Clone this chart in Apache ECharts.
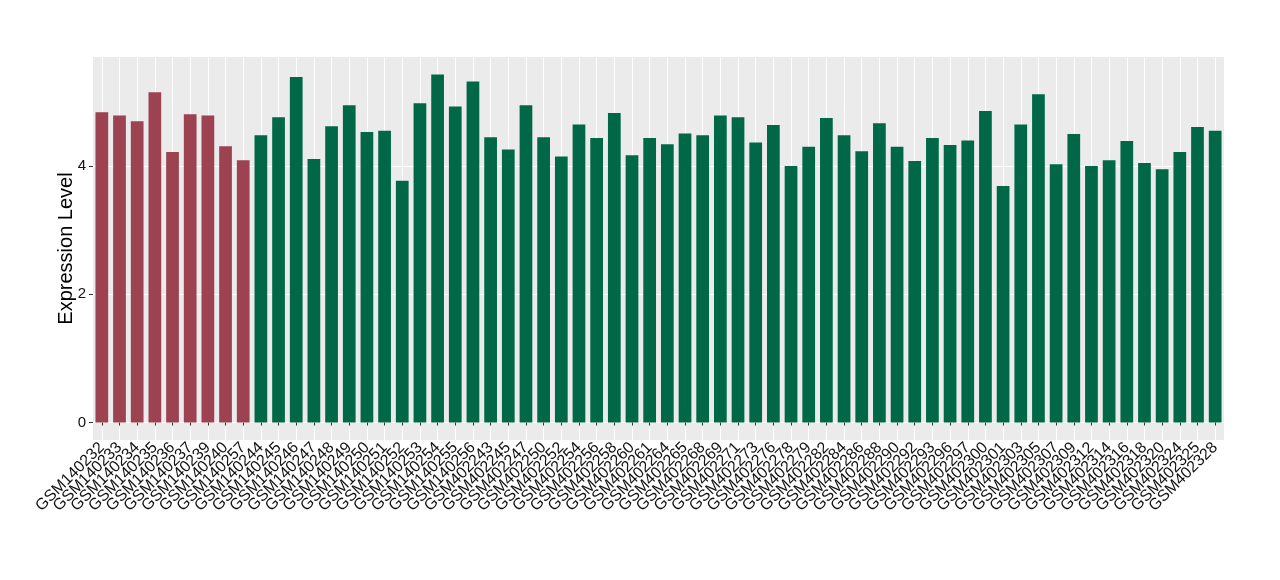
<!DOCTYPE html>
<html>
<head>
<meta charset="utf-8">
<script src="https://cdn.jsdelivr.net/npm/echarts@6/dist/echarts.min.js"></script>
<style>
  html, body { margin: 0; padding: 0; background: #ffffff; }
  #chart { width: 1280px; height: 580px; }
</style>
</head>
<body>
<div id="chart"></div>
<script>
  // group 1 (red)
  const samplesA = ['GSM140232','GSM140233','GSM140234','GSM140235','GSM140236','GSM140237','GSM140239','GSM140240','GSM140257']
  const valuesA = [4.84,4.79,4.70,5.15,4.22,4.81,4.79,4.31,4.09]
  // group 2 (green)
  const samplesB = ['GSM140244','GSM140245','GSM140246','GSM140247','GSM140248','GSM140249','GSM140250','GSM140251','GSM140252','GSM140253',
    'GSM140254','GSM140255','GSM140256','GSM402243','GSM402245','GSM402247','GSM402250','GSM402252','GSM402254','GSM402256',
    'GSM402258','GSM402260','GSM402261','GSM402264','GSM402265','GSM402268','GSM402269','GSM402271','GSM402273','GSM402276',
    'GSM402278','GSM402279','GSM402282','GSM402284','GSM402286','GSM402288','GSM402290','GSM402292','GSM402293','GSM402296',
    'GSM402297','GSM402300','GSM402301','GSM402303','GSM402305','GSM402307','GSM402309','GSM402312','GSM402314','GSM402316',
    'GSM402318','GSM402320','GSM402324','GSM402325','GSM402328']
  const valuesB = [4.48,4.76,5.39,4.11,4.62,4.95,4.53,4.55,3.77,4.98,
    5.43,4.93,5.32,4.45,4.26,4.95,4.45,4.15,4.65,4.44,
    4.83,4.17,4.44,4.34,4.51,4.48,4.79,4.76,4.37,4.64,
    4.00,4.30,4.75,4.48,4.23,4.67,4.30,4.08,4.44,4.33,
    4.40,4.86,3.69,4.65,5.12,4.03,4.50,4.00,4.09,4.39,
    4.05,3.95,4.22,4.61,4.55]
  const yTicks = [0, 2, 4]
  const yGrid = [0, 1, 2, 3, 4, 5]

  const colorA = '#9C4250'
  const colorB = '#006846'

  const categories = samplesA.concat(samplesB)
  const barData = valuesA.map(v => ({ value: v, itemStyle: { color: colorA } }))
    .concat(valuesB.map(v => ({ value: v, itemStyle: { color: colorB } })))

  const allValues = valuesA.concat(valuesB)
  const vmax = Math.max.apply(null, allValues)
  const ymin = -0.05 * vmax
  const ymax = vmax * 1.05

  const chart = echarts.init(document.getElementById('chart'))
  const option = {
    animation: false,
    grid: {
      left: 93,
      right: 56,
      top: 57,
      bottom: 140,
      show: true,
      backgroundColor: '#EBEBEB',
      borderWidth: 0
    },
    xAxis: {
      type: 'category',
      data: categories,
      axisLine: { show: false },
      axisTick: { show: true, alignWithLabel: true, length: 3, lineStyle: { color: '#333333' } },
      axisLabel: {
        interval: 0,
        rotate: 45,
        margin: 5,
        color: '#111111',
        fontSize: 16,
        fontFamily: 'Liberation Sans'
      },
      splitLine: { show: true, alignWithLabel: true, lineStyle: { color: '#ffffff', width: 1 } }
    },
    yAxis: {
      type: 'value',
      min: ymin,
      max: ymax,
      name: 'Expression Level',
      nameLocation: 'middle',
      nameGap: 17,
      nameMoveOverlap: false,
      nameTextStyle: { fontSize: 20, color: '#000000', fontFamily: 'Liberation Sans' },
      axisLine: { show: false },
      axisTick: { show: true, customValues: yTicks, length: 4, lineStyle: { color: '#333333' } },
      axisLabel: { customValues: yTicks, color: '#111111', fontSize: 15, margin: 7, fontFamily: 'Liberation Sans' },
      splitLine: { show: true, customValues: yGrid, lineStyle: { color: '#ffffff', width: 1 } }
    },
    series: [
      {
        type: 'bar',
        data: barData,
        barWidth: '72%'
      }
    ]
  }
  chart.setOption(option)
</script>
</body>
</html>
